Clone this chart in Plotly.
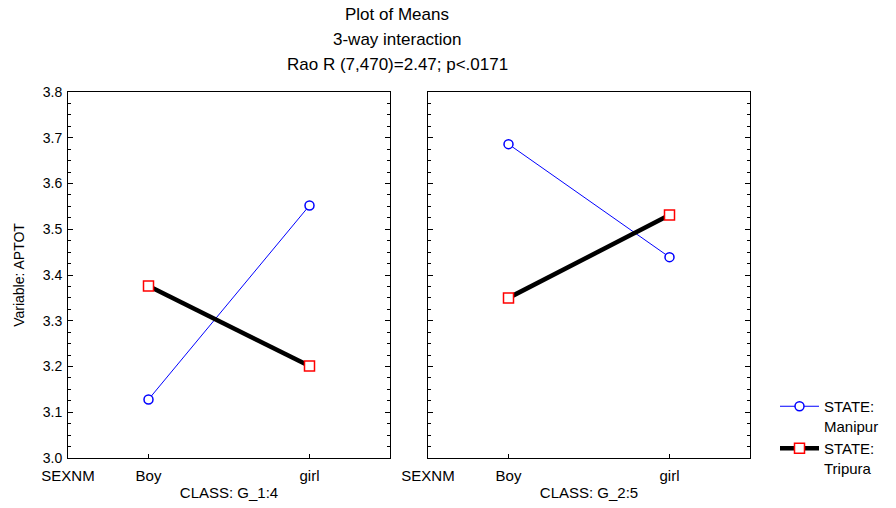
import plotly.graph_objects as go

# ---- data ----
sex_levels = ["Boy", "girl"]
sex_pos = [1, 3]
axis_label = "SEXNM"
class_levels = ["CLASS: G_1:4", "CLASS: G_2:5"]
states = ["STATE:<br>Manipur", "STATE:<br>Tripura"]
manipur_means = [[3.128, 3.552], [3.686, 3.439]]
tripura_means = [[3.376, 3.201], [3.350, 3.531]]
y_ticks = [3.0, 3.1, 3.2, 3.3, 3.4, 3.5, 3.6, 3.7, 3.8]
title_lines = ["Plot of Means", "3-way interaction", "Rao R (7,470)=2.47; p<.0171"]

W, H = 896, 508
FONT = "Liberation Sans, Arial, sans-serif"

fig = go.Figure()

for i in range(2):
    xa = "x" if i == 0 else "x2"
    ya = "y" if i == 0 else "y2"
    fig.add_trace(go.Scatter(
        x=sex_pos, y=manipur_means[i], mode="lines+markers",
        line=dict(color="#0000ff", width=1),
        marker=dict(symbol="circle", size=9, color="white",
                    line=dict(color="#0000ff", width=1.5)),
        name=states[0], showlegend=(i == 0), legendgroup="m",
        xaxis=xa, yaxis=ya))
    fig.add_trace(go.Scatter(
        x=sex_pos, y=tripura_means[i], mode="lines+markers",
        line=dict(color="black", width=4.5),
        marker=dict(symbol="square", size=10, color="white",
                    line=dict(color="#ff0000", width=1.5)),
        name=states[1], showlegend=(i == 0), legendgroup="t",
        xaxis=xa, yaxis=ya))

x_doms = [[68 / W, 390 / W], [428 / W, 750 / W]]
y_dom = [1 - 458 / H, 1 - 92 / H]

common_x = dict(range=[0, 4], tickvals=[0] + sex_pos, ticktext=[axis_label] + sex_levels,
                showline=True, linecolor="black", linewidth=1, mirror=True,
                ticks="inside", ticklen=4, tickcolor="black", showgrid=False, zeroline=False,
                automargin=False, ticklabelstandoff=4,
                tickfont=dict(family=FONT, size=15, color="black"),
                title_font=dict(family=FONT, size=15, color="black"), title_standoff=4)
common_y = dict(range=[3.0, 3.8], tickvals=y_ticks, tickformat=".1f",
                showline=True, linecolor="black", linewidth=1, mirror="ticks",
                ticks="inside", ticklen=5, tickcolor="black", showgrid=False, zeroline=False,
                automargin=False, ticklabelstandoff=2,
                minor=dict(dtick=0.025, ticks="inside", ticklen=3, tickcolor="black", showgrid=False),
                tickfont=dict(family=FONT, size=14, color="black"))

fig.update_layout(
    width=W, height=H, margin=dict(l=0, r=0, t=0, b=0),
    paper_bgcolor="white", plot_bgcolor="white",
    font=dict(family=FONT, size=15, color="black"),
    xaxis=dict(domain=x_doms[0], anchor="y", title_text=class_levels[0], **common_x),
    xaxis2=dict(domain=x_doms[1], anchor="y2", title_text=class_levels[1], **common_x),
    yaxis=dict(domain=y_dom, anchor="x", title_text="Variable: APTOT",
               title_font=dict(family=FONT, size=14, color="black"), title_standoff=14,
               **common_y),
    yaxis2=dict(domain=y_dom, anchor="x2", showticklabels=False, **common_y),
    legend=dict(x=775 / W, y=1 - 390 / H, xanchor="left", yanchor="top",
                valign="top", bgcolor="rgba(0,0,0,0)", itemwidth=39,
                font=dict(family=FONT, size=15, color="black"),
                tracegroupgap=0),
    showlegend=True,
)

for k, (txt, yp) in enumerate(zip(title_lines, [15, 40, 64])):
    fig.add_annotation(text=txt, x=397 / W, y=1 - yp / H, xref="paper", yref="paper",
                       xanchor="center", yanchor="middle", showarrow=False,
                       font=dict(family=FONT, size=17, color="black"))

fig.write_html("out.html")
